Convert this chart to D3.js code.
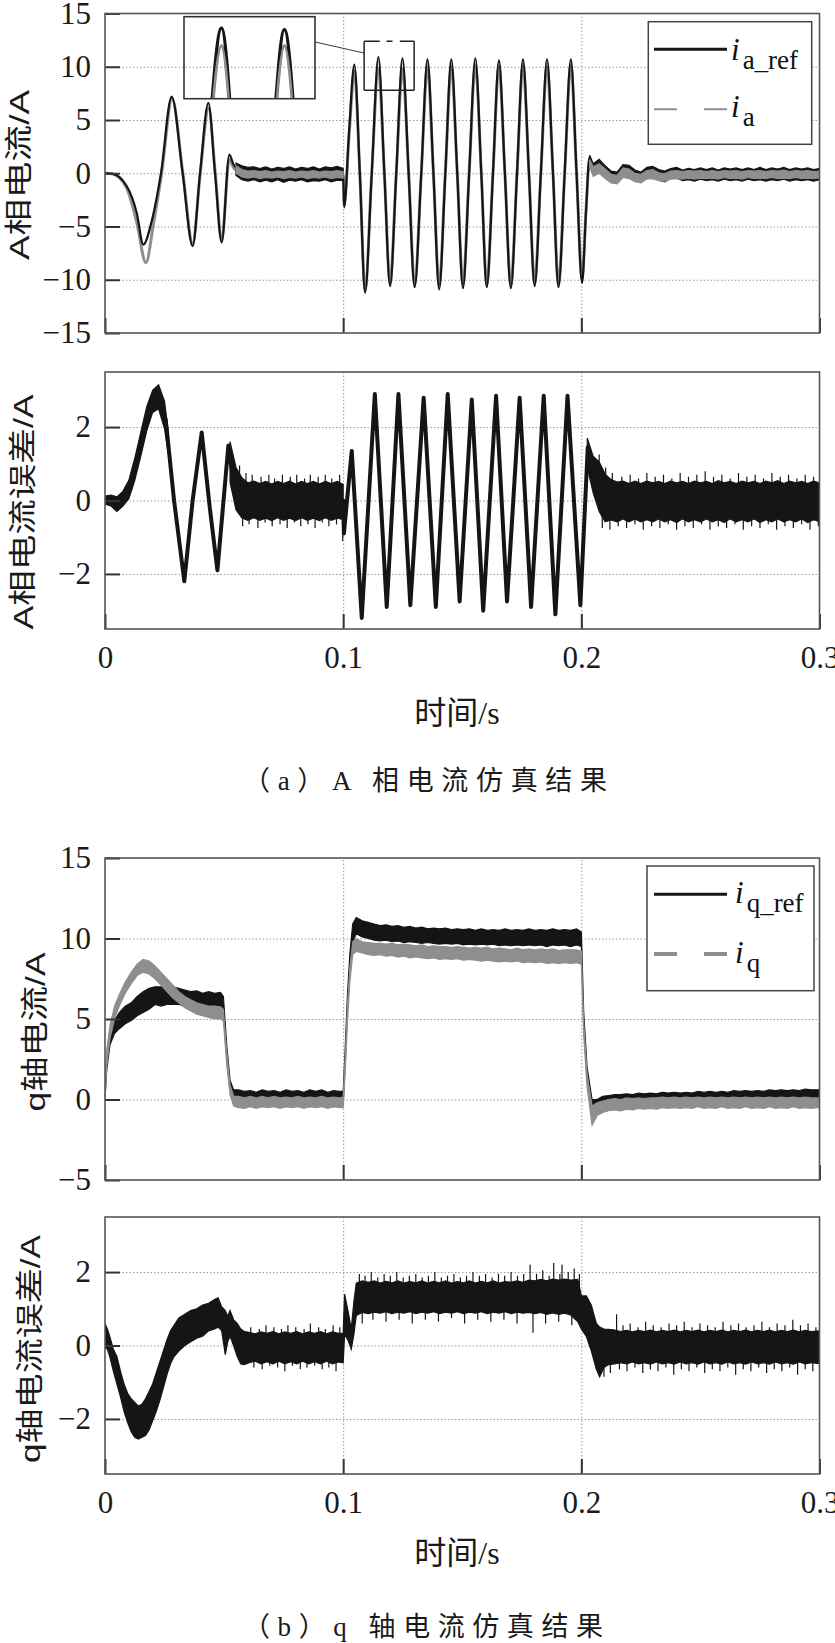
<!DOCTYPE html>
<html>
<head>
<meta charset="utf-8">
<script src="https://cdn.jsdelivr.net/npm/d3@7"></script>
<style>
  body { margin: 0; background: #fff; }
  svg { display: block; }
</style>
</head>
<body>
<div id="container"></div>
<script>
// ---- tick values / labels ----
const xTicks = [0, 0.1, 0.2, 0.3];
const yTicksA = [-15, -10, -5, 0, 5, 10, 15];
const yTicksQ = [-5, 0, 5, 10, 15];
const yTicksErr = [-2, 0, 2];
const legendA = ["a_ref", "a"];
const legendQ = ["q_ref", "q"];
const yLabels = ["A相电流/A", "A相电流误差/A", "q轴电流/A", "q轴电流误差/A"];
const captions = ["（a）A 相电流仿真结果", "（b）q 轴电流仿真结果"];
const xTitle = "时间/s";

// ---- (a) phase A current, key points [t, value] ----
const iaRef = [
  [0,0],[0.003,-0.05],[0.0091,-1.2],[0.0133,-3.7],[0.0161,-6.7],[0.0195,-4.6],[0.0235,0],[0.0280,7.2],
  [0.0326,0],[0.0368,-6.85],[0.0399,0],[0.0434,6.6],[0.0462,0],[0.0490,-6.5],[0.0522,1.75],[0.0540,0.8],
  [0.0563,0.35],[0.0600,0],[0.1000,0],
  [0.1004,-3.2],[0.1025,4.0],[0.1047,10.2],[0.1070,0],[0.1092,-11.2],[0.1120,0],[0.1148,10.9],[0.1173,0],
  [0.1197,-10.6],[0.1223,0],[0.1249,10.8],[0.1275,0],[0.1300,-10.7],[0.1328,0],[0.1354,10.7],[0.1379,0],
  [0.1403,-10.9],[0.1429,0],[0.1454,10.7],[0.1479,0],[0.1503,-10.8],[0.1529,0],[0.1555,10.8],[0.1580,0],
  [0.1603,-10.7],[0.1629,0],[0.1654,10.6],[0.1679,0],[0.1704,-10.8],[0.1730,0],[0.1755,10.7],[0.1780,0],
  [0.1804,-10.6],[0.1830,0],[0.1856,10.7],[0.1881,0],[0.1904,-10.7],[0.1930,0],[0.1956,10.7],[0.1980,0],
  [0.2003,-10.3],[0.2020,-3.5],[0.2034,1.5],[0.2050,0.4],[0.2072,0.9],[0.2095,0.4],[0.2115,-0.3],[0.2138,-0.6],
  [0.2162,0.1],[0.2186,0.55],[0.2212,0.0],[0.2238,-0.45],[0.2265,0.0],[0.2290,0.3],[0.2320,-0.1],[0.2350,-0.3],
  [0.2400,0],[0.3000,0]
];
const ia = [
  [0,0],[0.003,-0.05],[0.0091,-1.4],[0.0133,-4.6],[0.0172,-8.4],[0.0203,-4.8],[0.0238,0],[0.0282,7.0],
  [0.0327,0],[0.0368,-6.6],[0.0400,0],[0.0435,6.1],[0.0463,0],[0.0490,-6.3],[0.0522,1.3],[0.0540,0.5],
  [0.0563,0.1],[0.0600,-0.1],[0.1000,-0.1],
  [0.1004,-3.0],[0.1025,3.6],[0.1047,9.6],[0.1070,0],[0.1092,-10.9],[0.1120,0],[0.1148,9.8],[0.1173,0],
  [0.1197,-10.3],[0.1223,0],[0.1249,9.8],[0.1275,0],[0.1300,-10.4],[0.1328,0],[0.1354,10.0],[0.1379,0],
  [0.1403,-10.5],[0.1429,0],[0.1454,10.0],[0.1479,0],[0.1503,-10.4],[0.1529,0],[0.1555,10.1],[0.1580,0],
  [0.1603,-10.4],[0.1629,0],[0.1654,10.0],[0.1679,0],[0.1704,-10.5],[0.1730,0],[0.1755,10.1],[0.1780,0],
  [0.1804,-10.3],[0.1830,0],[0.1856,10.0],[0.1881,0],[0.1904,-10.4],[0.1930,0],[0.1956,10.1],[0.1980,0],
  [0.2003,-9.9],[0.2020,-3.3],[0.2034,1.1],[0.2050,0.1],[0.2072,0.6],[0.2095,0.1],[0.2115,-0.5],[0.2138,-0.8],
  [0.2162,-0.1],[0.2186,0.3],[0.2212,-0.2],[0.2238,-0.6],[0.2265,-0.2],[0.2290,0.1],[0.2320,-0.25],[0.2350,-0.4],
  [0.2400,-0.15],[0.3000,-0.1]
];
// noise envelopes [t, low, high]
const iaRefBand1 = [
  [0.0550,-0.2,0.95],[0.0575,-0.6,0.7],[0.0600,-0.75,0.55],[0.0625,-0.6,0.6],[0.0650,-0.8,0.45],[0.0675,-0.65,0.6],
  [0.0700,-0.8,0.4],[0.0725,-0.6,0.55],[0.0750,-0.85,0.45],[0.0775,-0.65,0.6],[0.0800,-0.75,0.4],[0.0825,-0.6,0.55],
  [0.0850,-0.8,0.45],[0.0875,-0.7,0.6],[0.0900,-0.75,0.4],[0.0925,-0.6,0.6],[0.0950,-0.8,0.5],[0.0975,-0.65,0.65],
  [0.1000,-0.7,0.45]
];
const iaBand1 = [
  [0.0550,0.0,0.7],[0.0575,-0.35,0.35],[0.0600,-0.45,0.2],[0.0625,-0.35,0.25],[0.0650,-0.5,0.15],[0.0675,-0.4,0.25],
  [0.0700,-0.45,0.1],[0.0725,-0.35,0.2],[0.0750,-0.5,0.15],[0.0775,-0.4,0.25],[0.0800,-0.45,0.1],[0.0825,-0.35,0.2],
  [0.0850,-0.5,0.15],[0.0875,-0.4,0.25],[0.0900,-0.45,0.1],[0.0925,-0.35,0.2],[0.0950,-0.5,0.15],[0.0975,-0.4,0.25],
  [0.1000,-0.45,0.15]
];
const iaRefBand2 = [
  [0.2035,0.9,1.7],[0.2050,-0.1,0.9],[0.2075,0.3,1.3],[0.2100,-0.3,0.7],[0.2125,-0.8,0.2],[0.2150,-0.9,0.1],
  [0.2175,-0.2,0.8],[0.2200,-0.3,0.75],[0.2225,-0.7,0.3],[0.2250,-0.85,0.1],[0.2275,-0.4,0.55],[0.2300,-0.3,0.65],
  [0.2325,-0.65,0.35],[0.2350,-0.8,0.2],[0.2375,-0.5,0.45],[0.2400,-0.45,0.55],[0.2425,-0.7,0.3],[0.2450,-0.6,0.45],
  [0.2475,-0.75,0.35],[0.2500,-0.55,0.5],[0.2525,-0.7,0.35],[0.2550,-0.6,0.5],[0.2575,-0.75,0.3],[0.2600,-0.55,0.5],
  [0.2625,-0.7,0.4],[0.2650,-0.6,0.5],[0.2675,-0.75,0.35],[0.2700,-0.55,0.5],[0.2725,-0.7,0.35],[0.2750,-0.6,0.55],
  [0.2775,-0.75,0.35],[0.2800,-0.6,0.5],[0.2825,-0.7,0.4],[0.2850,-0.55,0.55],[0.2875,-0.75,0.35],[0.2900,-0.6,0.5],
  [0.2925,-0.7,0.4],[0.2950,-0.6,0.5],[0.2975,-0.75,0.35],[0.3000,-0.6,0.45]
];
const iaBand2 = [
  [0.2035,0.6,1.3],[0.2050,-0.3,0.6],[0.2075,0.0,0.9],[0.2100,-0.5,0.4],[0.2125,-0.9,-0.1],[0.2150,-1.0,-0.2],
  [0.2175,-0.4,0.5],[0.2200,-0.5,0.4],[0.2225,-0.8,0.0],[0.2250,-0.9,-0.1],[0.2275,-0.55,0.25],[0.2300,-0.5,0.35],
  [0.2325,-0.7,0.05],[0.2350,-0.75,-0.05],[0.2375,-0.55,0.2],[0.2400,-0.5,0.25],[0.2425,-0.55,0.15],[0.2450,-0.45,0.25],
  [0.2475,-0.55,0.2],[0.2500,-0.45,0.25],[0.2525,-0.5,0.15],[0.2550,-0.45,0.25],[0.2575,-0.55,0.15],[0.2600,-0.4,0.25],
  [0.2625,-0.5,0.2],[0.2650,-0.45,0.25],[0.2675,-0.55,0.15],[0.2700,-0.4,0.25],[0.2725,-0.5,0.2],[0.2750,-0.45,0.25],
  [0.2775,-0.5,0.15],[0.2800,-0.4,0.25],[0.2825,-0.5,0.2],[0.2850,-0.45,0.3],[0.2875,-0.5,0.15],[0.2900,-0.4,0.25],
  [0.2925,-0.5,0.2],[0.2950,-0.45,0.25],[0.2975,-0.5,0.15],[0.3000,-0.45,0.2]
];

// ---- (a) phase A current error ----
const iaErr = [
  [0,0],[0.0025,0.02],[0.0045,-0.12],[0.0065,0.0],[0.0085,0.1],[0.0105,0.3],[0.013,0.9],[0.016,1.7],[0.019,2.5],
  [0.0224,2.85],[0.0255,2.2],[0.029,0.0],[0.0333,-2.2],[0.0368,0.0],[0.0406,1.85],[0.0440,-0.2],[0.0472,-1.9],
  [0.0495,-0.2],[0.0518,1.5],[0.0535,0.7],[0.056,0.2],[0.06,0.0],[0.1,0.0],
  [0.1003,-0.9],[0.1036,1.35],[0.1078,-3.2],[0.1133,2.9],[0.1183,-2.9],[0.1232,2.9],[0.1282,-2.85],[0.1338,2.8],
  [0.1389,-2.9],[0.1439,2.9],[0.1489,-2.75],[0.1540,2.75],[0.1588,-3.0],[0.1642,2.85],[0.1688,-2.75],[0.1741,2.8],
  [0.1789,-2.9],[0.1842,2.85],[0.1891,-3.1],[0.1942,2.85],[0.1996,-2.85],[0.2027,1.45],[0.2045,0.7],[0.207,0.5],
  [0.21,0.0],[0.3,0.0]
];
const iaErrBand1 = [
  [0.0000,-0.1,0.12],[0.0025,-0.15,0.15],[0.0050,-0.3,0.1],[0.0075,-0.15,0.25],[0.0100,0.05,0.55],[0.0125,0.55,1.15],
  [0.0150,1.2,1.85],[0.0175,1.9,2.55],[0.0200,2.4,3.0],[0.0225,2.5,3.15],[0.0250,1.95,2.7],[0.0265,1.3,1.9]
];
const iaErrBand2 = [
  [0.0525,0.5,1.6],[0.0550,-0.25,0.9],[0.0575,-0.48,0.62],[0.0600,-0.54,0.48],[0.0625,-0.47,0.53],[0.0650,-0.54,0.46],
  [0.0675,-0.48,0.52],[0.0700,-0.55,0.45],[0.0725,-0.47,0.52],[0.0750,-0.54,0.46],[0.0775,-0.48,0.53],[0.0800,-0.55,0.45],
  [0.0825,-0.47,0.52],[0.0850,-0.54,0.46],[0.0875,-0.48,0.52],[0.0900,-0.55,0.45],[0.0925,-0.47,0.52],[0.0950,-0.54,0.46],
  [0.0975,-0.48,0.52],[0.1000,-0.52,0.44]
];
const iaErrBand3 = [
  [0.2025,0.9,1.7],[0.2050,0.2,1.2],[0.2075,-0.3,1.05],[0.2100,-0.58,0.72],[0.2125,-0.53,0.57],[0.2150,-0.58,0.5],
  [0.2175,-0.5,0.53],[0.2200,-0.58,0.46],[0.2225,-0.5,0.53],[0.2250,-0.58,0.46],[0.2275,-0.52,0.53],[0.2300,-0.58,0.48],
  [0.2325,-0.5,0.52],[0.2350,-0.58,0.46],[0.2375,-0.52,0.53],[0.2400,-0.6,0.48],[0.2425,-0.5,0.52],[0.2450,-0.58,0.46],
  [0.2475,-0.52,0.53],[0.2500,-0.58,0.48],[0.2525,-0.5,0.52],[0.2550,-0.58,0.46],[0.2575,-0.52,0.54],[0.2600,-0.6,0.48],
  [0.2625,-0.5,0.52],[0.2650,-0.58,0.46],[0.2675,-0.52,0.53],[0.2700,-0.58,0.48],[0.2725,-0.5,0.52],[0.2750,-0.6,0.46],
  [0.2775,-0.52,0.53],[0.2800,-0.58,0.48],[0.2825,-0.5,0.54],[0.2850,-0.58,0.46],[0.2875,-0.52,0.53],[0.2900,-0.58,0.48],
  [0.2925,-0.5,0.52],[0.2950,-0.6,0.46],[0.2975,-0.52,0.53],[0.3000,-0.58,0.48]
];
// isolated noise spikes [t, base, tip]
const iaErrSpikes = [
  [0.0565,0.3,0.95],[0.0578,0,-0.7],[0.0592,0,0.75],[0.0605,0,-0.65],[0.0618,0,0.7],[0.0642,0,-0.75],[0.0655,0,0.65],
  [0.0672,0,-0.6],[0.0688,0,0.7],[0.0702,0,-0.7],[0.0712,0,0.6],[0.0735,0,-0.65],[0.0745,0,0.7],[0.0765,0,-0.75],
  [0.0778,0,0.65],[0.0795,0,-0.6],[0.0805,0,0.7],[0.0822,0,-0.7],[0.0838,0,0.6],[0.0852,0,-0.65],[0.0862,0,0.7],
  [0.0882,0,-0.75],[0.0895,0,0.65],[0.0912,0,-0.6],[0.0925,0,0.7],[0.0940,0,-0.7],[0.0952,0,0.6],[0.0972,0,-0.65],
  [0.0985,0,0.7],[0.0998,0,-1.1],
  [0.2075,0.4,1.25],[0.2088,0,-0.75],[0.2102,0,0.9],[0.2120,0,-0.8],[0.2130,0,0.75],[0.2155,0,-0.7],[0.2170,0,0.65],
  [0.2190,0,-0.75],[0.2205,0,0.7],[0.2225,0,-0.65],[0.2240,0,0.6],[0.2260,0,-0.8],[0.2275,0,0.75],[0.2295,0,-0.7],
  [0.2310,0,0.65],[0.2330,0,-0.75],[0.2345,0,0.7],[0.2365,0,-0.65],[0.2380,0,0.6],[0.2400,0,-0.8],[0.2415,0,0.75],
  [0.2435,0,-0.7],[0.2450,0,0.65],[0.2470,0,-0.75],[0.2485,0,0.7],[0.2505,0,-0.65],[0.2520,0,0.8],[0.2540,0,-0.8],
  [0.2555,0,0.65],[0.2575,0,-0.7],[0.2590,0,0.7],[0.2610,0,-0.75],[0.2625,0,0.6],[0.2645,0,-0.65],[0.2660,0,0.75],
  [0.2680,0,-0.8],[0.2695,0,0.65],[0.2715,0,-0.7],[0.2730,0,0.7],[0.2750,0,-0.75],[0.2765,0,0.6],[0.2785,0,-0.65],
  [0.2800,0,0.75],[0.2820,0,-0.8],[0.2835,0,0.65],[0.2855,0,-0.7],[0.2870,0,0.7],[0.2890,0,-0.75],[0.2905,0,0.6],
  [0.2925,0,-0.65],[0.2940,0,0.7],[0.2960,0,-0.8],[0.2975,0,0.65],[0.2995,0,-0.7]
];

// ---- (b) q-axis current, envelopes [t, low, high] ----
const iqRefBand = [
  [0.0000,0.0,0.3],[0.0007,1.8,2.8],[0.0021,3.4,4.2],[0.0040,4.1,4.9],[0.0060,4.4,5.4],[0.0085,4.7,5.8],
  [0.0110,4.9,6.0],[0.0135,5.2,6.4],[0.0160,5.4,6.7],[0.0185,5.6,6.9],[0.0210,5.9,7.0],[0.0235,5.8,7.0],
  [0.0260,5.9,6.9],[0.0285,5.9,7.0],[0.0310,5.9,6.9],[0.0335,5.8,6.8],[0.0360,5.8,6.7],[0.0385,5.7,6.75],
  [0.0410,5.7,6.6],[0.0435,5.65,6.7],[0.0460,5.6,6.6],[0.0485,5.6,6.65],[0.0497,5.4,6.4],[0.0511,2.6,3.4],
  [0.0525,0.6,1.2],[0.0540,0.0,0.6],[0.0560,-0.1,0.6],[0.0585,-0.3,0.5],[0.0610,-0.4,0.55],[0.0635,-0.2,0.45],
  [0.0660,-0.45,0.6],[0.0685,-0.3,0.5],[0.0710,-0.4,0.55],[0.0735,-0.25,0.45],[0.0760,-0.45,0.6],[0.0785,-0.3,0.5],
  [0.0810,-0.4,0.55],[0.0835,-0.3,0.45],[0.0860,-0.45,0.6],[0.0885,-0.3,0.5],[0.0910,-0.4,0.6],[0.0935,-0.3,0.45],
  [0.0960,-0.45,0.55],[0.0985,-0.3,0.5],[0.1000,-0.3,0.5],[0.1008,2.0,3.0],[0.1018,5.5,6.5],[0.1028,8.0,9.0],
  [0.1040,9.8,10.9],[0.1055,10.3,11.3],[0.1080,10.1,11.1],[0.1105,10.0,11.0],[0.1130,9.9,10.9],[0.1155,9.85,10.8],
  [0.1180,9.9,10.85],[0.1205,9.8,10.75],[0.1230,9.85,10.8],[0.1255,9.75,10.7],[0.1280,9.8,10.75],[0.1305,9.75,10.65],
  [0.1330,9.7,10.7],[0.1355,9.75,10.6],[0.1380,9.7,10.65],[0.1405,9.65,10.6],[0.1430,9.7,10.65],[0.1455,9.65,10.55],
  [0.1480,9.7,10.6],[0.1505,9.6,10.55],[0.1530,9.65,10.6],[0.1555,9.6,10.5],[0.1580,9.65,10.6],[0.1605,9.6,10.5],
  [0.1630,9.65,10.55],[0.1655,9.55,10.5],[0.1680,9.6,10.6],[0.1705,9.55,10.5],[0.1730,9.6,10.55],[0.1755,9.55,10.5],
  [0.1780,9.6,10.6],[0.1805,9.55,10.5],[0.1830,9.6,10.55],[0.1855,9.5,10.5],[0.1880,9.6,10.6],[0.1905,9.55,10.5],
  [0.1930,9.6,10.55],[0.1955,9.5,10.5],[0.1980,9.6,10.6],[0.2000,9.5,10.4],[0.2010,4.6,5.4],[0.2024,1.2,2.0],
  [0.2045,-0.7,0.0],[0.2066,-0.8,0.0],[0.2090,-0.6,0.2],[0.2115,-0.5,0.25],[0.2140,-0.45,0.3],[0.2165,-0.4,0.3],
  [0.2190,-0.45,0.35],[0.2215,-0.35,0.3],[0.2240,-0.4,0.4],[0.2265,-0.3,0.35],[0.2290,-0.35,0.4],[0.2315,-0.3,0.35],
  [0.2340,-0.35,0.45],[0.2365,-0.25,0.4],[0.2390,-0.3,0.45],[0.2415,-0.25,0.4],[0.2440,-0.3,0.45],[0.2465,-0.2,0.4],
  [0.2490,-0.25,0.5],[0.2515,-0.2,0.45],[0.2540,-0.25,0.5],[0.2565,-0.15,0.45],[0.2590,-0.2,0.5],[0.2615,-0.15,0.45],
  [0.2640,-0.2,0.55],[0.2665,-0.1,0.5],[0.2690,-0.15,0.55],[0.2715,-0.1,0.5],[0.2740,-0.15,0.55],[0.2765,-0.05,0.5],
  [0.2790,-0.1,0.6],[0.2815,-0.05,0.55],[0.2840,-0.1,0.6],[0.2865,0.0,0.55],[0.2890,-0.05,0.6],[0.2915,0.0,0.55],
  [0.2940,-0.05,0.65],[0.2965,0.0,0.6],[0.3000,0.0,0.6]
];
const iqBand = [
  [0.0000,0.0,0.2],[0.0007,2.0,3.0],[0.0021,3.8,4.6],[0.0040,5.0,5.8],[0.0060,5.8,6.5],[0.0085,6.6,7.3],
  [0.0110,7.2,7.9],[0.0135,7.7,8.4],[0.0160,7.9,8.7],[0.0185,7.8,8.6],[0.0210,7.5,8.3],[0.0235,7.1,7.9],
  [0.0260,6.7,7.5],[0.0285,6.3,7.1],[0.0310,6.0,6.7],[0.0335,5.7,6.4],[0.0360,5.5,6.2],[0.0385,5.3,6.0],
  [0.0410,5.2,5.9],[0.0435,5.1,5.8],[0.0460,5.0,5.8],[0.0485,5.0,5.75],[0.0497,4.9,5.6],[0.0511,2.2,3.0],
  [0.0525,0.3,0.9],[0.0540,-0.4,0.2],[0.0560,-0.5,0.2],[0.0585,-0.55,0.1],[0.0610,-0.45,0.2],[0.0635,-0.55,0.1],
  [0.0660,-0.45,0.2],[0.0685,-0.5,0.1],[0.0710,-0.45,0.2],[0.0735,-0.55,0.1],[0.0760,-0.45,0.15],[0.0785,-0.5,0.1],
  [0.0810,-0.45,0.2],[0.0835,-0.55,0.1],[0.0860,-0.45,0.15],[0.0885,-0.5,0.1],[0.0910,-0.45,0.2],[0.0935,-0.55,0.1],
  [0.0960,-0.45,0.15],[0.0985,-0.5,0.1],[0.1000,-0.5,0.15],[0.1008,1.6,2.5],[0.1018,4.8,5.8],[0.1028,7.3,8.2],
  [0.1040,9.0,9.8],[0.1055,9.2,10.0],[0.1080,9.1,9.8],[0.1105,9.0,9.75],[0.1130,8.95,9.7],[0.1155,9.0,9.7],
  [0.1180,8.9,9.65],[0.1205,8.95,9.7],[0.1230,8.85,9.6],[0.1255,8.9,9.65],[0.1280,8.8,9.6],[0.1305,8.85,9.55],
  [0.1330,8.8,9.6],[0.1355,8.75,9.5],[0.1380,8.8,9.55],[0.1405,8.7,9.5],[0.1430,8.75,9.5],[0.1455,8.7,9.45],
  [0.1480,8.75,9.5],[0.1505,8.65,9.45],[0.1530,8.7,9.4],[0.1555,8.65,9.45],[0.1580,8.6,9.4],[0.1605,8.65,9.45],
  [0.1630,8.6,9.35],[0.1655,8.55,9.4],[0.1680,8.6,9.35],[0.1705,8.55,9.3],[0.1730,8.6,9.4],[0.1755,8.5,9.3],
  [0.1780,8.55,9.35],[0.1805,8.5,9.3],[0.1830,8.55,9.35],[0.1855,8.45,9.3],[0.1880,8.5,9.35],[0.1905,8.45,9.25],
  [0.1930,8.5,9.3],[0.1955,8.45,9.3],[0.1980,8.5,9.3],[0.2000,8.4,9.2],[0.2010,4.0,4.8],[0.2024,0.8,1.6],
  [0.2045,-1.6,-0.4],[0.2066,-1.0,-0.2],[0.2090,-0.8,-0.1],[0.2115,-0.7,0.0],[0.2140,-0.65,0.05],[0.2165,-0.7,0.0],
  [0.2190,-0.6,0.1],[0.2215,-0.65,0.05],[0.2240,-0.55,0.1],[0.2265,-0.6,0.05],[0.2290,-0.55,0.1],[0.2315,-0.6,0.1],
  [0.2340,-0.5,0.15],[0.2365,-0.55,0.1],[0.2390,-0.5,0.15],[0.2415,-0.55,0.1],[0.2440,-0.5,0.15],[0.2465,-0.55,0.1],
  [0.2490,-0.45,0.15],[0.2515,-0.55,0.1],[0.2540,-0.5,0.15],[0.2565,-0.55,0.1],[0.2590,-0.45,0.15],[0.2615,-0.55,0.1],
  [0.2640,-0.5,0.15],[0.2665,-0.55,0.1],[0.2690,-0.45,0.15],[0.2715,-0.55,0.1],[0.2740,-0.5,0.15],[0.2765,-0.55,0.1],
  [0.2790,-0.45,0.15],[0.2815,-0.55,0.1],[0.2840,-0.5,0.15],[0.2865,-0.55,0.1],[0.2890,-0.45,0.15],[0.2915,-0.55,0.1],
  [0.2940,-0.5,0.15],[0.2965,-0.55,0.1],[0.3000,-0.5,0.1]
];

// ---- (b) q-axis current error ----
const iqErrBand = [
  [0.0000,-0.05,0.6],[0.0010,-0.1,0.45],[0.0020,-0.3,0.25],[0.0035,-0.7,-0.1],[0.0050,-1.05,-0.3],[0.0065,-1.4,-0.7],
  [0.0080,-1.8,-1.05],[0.0095,-2.1,-1.3],[0.0110,-2.35,-1.45],[0.0125,-2.5,-1.55],[0.0140,-2.55,-1.65],[0.0155,-2.5,-1.6],
  [0.0170,-2.45,-1.45],[0.0185,-2.3,-1.25],[0.0200,-2.05,-1.05],[0.0215,-1.8,-0.75],[0.0230,-1.5,-0.45],[0.0245,-1.15,-0.15],
  [0.0260,-0.8,0.15],[0.0275,-0.5,0.4],[0.0290,-0.3,0.55],[0.0310,-0.15,0.75],[0.0335,0.0,0.85],[0.0360,0.1,0.95],
  [0.0385,0.2,1.0],[0.0410,0.25,1.1],[0.0435,0.4,1.15],[0.0460,0.45,1.25],[0.0475,0.5,1.3],[0.0490,0.4,1.05],
  [0.0505,-0.25,0.95],[0.0515,0.1,0.8],[0.0525,0.25,0.95],[0.0540,0.0,0.7],[0.0555,-0.3,0.6],[0.0570,-0.5,0.45],
  [0.0585,-0.52,0.38],[0.0605,-0.47,0.36],[0.0630,-0.43,0.32],[0.0655,-0.5,0.37],[0.0680,-0.44,0.33],[0.0705,-0.5,0.38],
  [0.0730,-0.43,0.32],[0.0755,-0.5,0.37],[0.0780,-0.44,0.33],[0.0805,-0.5,0.38],[0.0830,-0.43,0.32],[0.0855,-0.5,0.37],
  [0.0880,-0.44,0.33],[0.0905,-0.5,0.38],[0.0930,-0.43,0.32],[0.0955,-0.5,0.37],[0.0980,-0.45,0.33],[0.1000,-0.47,0.34],
  [0.1006,0.3,1.4],[0.1020,0.15,0.95],[0.1034,-0.1,0.45],[0.1045,0.3,1.2],[0.1055,0.82,1.7],[0.1080,0.9,1.76],
  [0.1105,0.87,1.72],[0.1130,0.91,1.76],[0.1155,0.88,1.7],[0.1180,0.92,1.75],[0.1205,0.87,1.71],[0.1230,0.91,1.76],
  [0.1255,0.88,1.7],[0.1280,0.92,1.74],[0.1305,0.87,1.71],[0.1330,0.91,1.76],[0.1355,0.88,1.7],[0.1380,0.92,1.75],
  [0.1405,0.87,1.71],[0.1430,0.91,1.76],[0.1455,0.88,1.7],[0.1480,0.92,1.74],[0.1505,0.87,1.71],[0.1530,0.91,1.76],
  [0.1555,0.88,1.7],[0.1580,0.92,1.75],[0.1605,0.87,1.71],[0.1630,0.91,1.76],[0.1655,0.88,1.7],[0.1680,0.92,1.74],
  [0.1705,0.87,1.72],[0.1730,0.91,1.76],[0.1755,0.88,1.72],[0.1780,0.9,1.78],[0.1805,0.87,1.76],[0.1830,0.9,1.8],
  [0.1855,0.85,1.76],[0.1880,0.89,1.81],[0.1905,0.85,1.78],[0.1930,0.88,1.81],[0.1955,0.83,1.78],[0.1985,0.65,1.8],
  [0.2000,0.45,1.35],[0.2021,0.25,1.35],[0.2042,-0.15,1.1],[0.2063,-0.65,0.6],[0.2077,-0.85,0.5],[0.2095,-0.6,0.45],
  [0.2115,-0.52,0.44],[0.2140,-0.5,0.42],[0.2165,-0.47,0.38],[0.2190,-0.5,0.41],[0.2215,-0.45,0.37],[0.2240,-0.5,0.41],
  [0.2265,-0.47,0.38],[0.2290,-0.51,0.42],[0.2315,-0.45,0.37],[0.2340,-0.5,0.41],[0.2365,-0.47,0.38],[0.2390,-0.51,0.42],
  [0.2415,-0.45,0.37],[0.2440,-0.5,0.41],[0.2465,-0.47,0.38],[0.2490,-0.51,0.42],[0.2515,-0.45,0.37],[0.2540,-0.5,0.41],
  [0.2565,-0.47,0.38],[0.2590,-0.51,0.42],[0.2615,-0.45,0.37],[0.2640,-0.5,0.41],[0.2665,-0.47,0.38],[0.2690,-0.51,0.42],
  [0.2715,-0.45,0.37],[0.2740,-0.5,0.41],[0.2765,-0.47,0.38],[0.2790,-0.51,0.42],[0.2815,-0.45,0.37],[0.2840,-0.5,0.41],
  [0.2865,-0.47,0.38],[0.2890,-0.51,0.42],[0.2915,-0.45,0.37],[0.2940,-0.5,0.41],[0.2965,-0.47,0.38],[0.3000,-0.49,0.4]
];
const iqErrSpikes = [
  [0.0612,0,0.5],[0.0625,0,-0.6],[0.0648,0,0.45],[0.0660,0,-0.65],[0.0676,0,0.55],[0.0692,0,-0.55],[0.0709,0,0.5],
  [0.0725,0,-0.6],[0.0741,0,0.45],[0.0755,0,-0.7],[0.0768,0,0.55],[0.0787,0,-0.55],[0.0801,0,0.5],[0.0820,0,-0.65],
  [0.0836,0,0.45],[0.0848,0,-0.6],[0.0862,0,0.6],[0.0880,0,-0.55],[0.0897,0,0.5],[0.0912,0,-0.65],[0.0925,0,0.45],
  [0.0940,0,-0.6],[0.0958,0,0.55],[0.0970,0,-0.7],[0.0986,0,0.5],
  [0.1068,1.3,1.95],[0.1080,1.3,0.6],[0.1092,1.3,1.9],[0.1118,1.3,2.0],[0.1125,1.3,0.7],[0.1145,1.3,1.85],
  [0.1172,1.3,1.95],[0.1180,1.3,0.65],[0.1198,1.3,1.9],[0.1225,1.3,2.0],[0.1235,1.3,0.7],[0.1252,1.3,1.85],
  [0.1278,1.3,1.9],[0.1290,1.3,0.6],[0.1305,1.3,1.95],[0.1332,1.3,1.85],[0.1345,1.3,0.7],[0.1358,1.3,1.9],
  [0.1385,1.3,2.0],[0.1400,1.3,0.65],[0.1412,1.3,1.85],[0.1438,1.3,1.9],[0.1455,1.3,0.75],[0.1465,1.3,1.95],
  [0.1492,1.3,1.85],[0.1510,1.3,0.6],[0.1518,1.3,1.9],[0.1545,1.3,2.0],[0.1565,1.3,0.7],[0.1572,1.3,1.9],
  [0.1598,1.3,1.95],[0.1620,1.3,0.65],[0.1625,1.3,1.85],[0.1652,1.3,1.95],[0.1675,1.3,0.7],[0.1678,1.3,1.9],
  [0.1705,1.3,2.0],[0.1730,1.3,0.6],[0.1732,1.3,1.9],[0.1758,1.3,1.95],[0.1785,1.3,2.2],[0.1797,1.3,0.35],
  [0.1812,1.3,1.95],[0.1838,1.3,2.05],[0.1850,1.3,0.6],[0.1865,1.3,1.9],[0.1884,1.3,2.25],[0.1905,1.3,0.65],
  [0.1910,1.3,1.95],[0.1919,1.3,2.2],[0.1945,1.3,2.0],[0.1960,1.3,0.55],[0.1970,1.3,2.1],[0.1992,1.3,1.95],
  [0.2095,0,-0.85],[0.2122,0,-0.75],[0.2148,0,0.85],[0.2160,0,-0.65],[0.2175,0,0.55],[0.2192,0,-0.7],[0.2205,0,0.6],
  [0.2225,0,-0.6],[0.2238,0,0.5],[0.2258,0,-0.75],[0.2270,0,0.65],[0.2290,0,-0.65],[0.2302,0,0.55],[0.2322,0,-0.7],
  [0.2335,0,0.5],[0.2355,0,-0.6],[0.2368,0,0.6],[0.2388,0,-0.8],[0.2400,0,0.55],[0.2420,0,-0.65],[0.2432,0,0.65],
  [0.2452,0,-0.7],[0.2465,0,0.5],[0.2485,0,-0.6],[0.2498,0,0.6],[0.2518,0,-0.75],[0.2530,0,0.55],[0.2550,0,-0.65],
  [0.2562,0,0.5],[0.2582,0,-0.7],[0.2595,0,0.65],[0.2615,0,-0.6],[0.2628,0,0.55],[0.2648,0,-0.8],[0.2660,0,0.6],
  [0.2680,0,-0.65],[0.2692,0,0.5],[0.2712,0,-0.7],[0.2725,0,0.55],[0.2745,0,-0.6],[0.2758,0,0.65],[0.2778,0,-0.75],
  [0.2790,0,0.5],[0.2810,0,-0.65],[0.2822,0,0.6],[0.2842,0,-0.7],[0.2855,0,0.55],[0.2875,0,-0.6],[0.2888,0,0.7],
  [0.2908,0,-0.8],[0.2920,0,0.55],[0.2940,0,-0.65],[0.2952,0,0.6],[0.2972,0,-0.7],[0.2985,0,0.5]
];

// ---------------------------------------------------------------
var w = 835, h = 1643;
var X0 = 105, X1 = 819.5;
var BLACK = "#151515", GRAY = "#8e8e8e";
var SERIF = "'Liberation Serif','Times New Roman','Noto Sans CJK SC',serif";
var SANS = "'Liberation Sans','Noto Sans CJK SC',sans-serif";

var svg = d3.select("div#container").append("svg")
    .attr("width", w).attr("height", h)
    .attr("viewBox", "0 0 " + w + " " + h)
    .style("background-color", "#fff");

var x = d3.scaleLinear().domain([0, 0.3]).range([X0, X1]);

var panels = [
  {id: "pa",  top: 13.5, bottom: 333,  dom: [-15, 15],   ticks: yTicksA,   lx: 19, ly: 175,  llen: 170, xl: false},
  {id: "pae", top: 372,  bottom: 629,  dom: [-3.5, 3.5], ticks: yTicksErr, lx: 23, ly: 512,  llen: 235, xl: true},
  {id: "pq",  top: 858,  bottom: 1180, dom: [-5, 15],    ticks: yTicksQ,   lx: 35, ly: 1032, llen: 159, xl: false},
  {id: "pqe", top: 1217, bottom: 1474, dom: [-3.5, 3.5], ticks: yTicksErr, lx: 30, ly: 1349, llen: 228, xl: true}
];

function frame(p, i) {
  var y = d3.scaleLinear().domain(p.dom).range([p.bottom, p.top]);
  var g = svg.append("g");
  svg.append("clipPath").attr("id", "clip-" + p.id)
    .append("rect").attr("x", X0).attr("y", p.top).attr("width", X1 - X0).attr("height", p.bottom - p.top);

  // dotted grid
  var gy = g.append("g").attr("transform", "translate(" + X0 + ",0)")
    .call(d3.axisLeft(y).tickValues(p.ticks.filter(v => v > p.dom[0] && v < p.dom[1]))
      .tickSize(-(X1 - X0)).tickFormat(""));
  var gx = g.append("g").attr("transform", "translate(0," + p.bottom + ")")
    .call(d3.axisBottom(x).tickValues([0.1, 0.2]).tickSize(-(p.bottom - p.top)).tickFormat(""));
  [gy, gx].forEach(a => {
    a.select(".domain").remove();
    a.selectAll("line").attr("stroke", "#9a9a9a").attr("stroke-width", 1).attr("stroke-dasharray", "1.5,2");
  });

  var plot = g.append("g").attr("clip-path", "url(#clip-" + p.id + ")");

  // y label
  svg.append("text")
    .attr("transform", "translate(" + p.lx + "," + p.ly + ") rotate(-90)")
    .attr("text-anchor", "middle").attr("dominant-baseline", "central")
    .attr("textLength", p.llen).attr("lengthAdjust", "spacingAndGlyphs")
    .style("font-family", SANS).style("font-size", "28px").attr("fill", "#1a1a1a")
    .text(yLabels[i]);
  return {y: y, g: g, plot: plot};
}

function finish(p, f) {
  var ya = f.g.append("g").attr("transform", "translate(" + X0 + ",0)")
    .call(d3.axisLeft(f.y).tickValues(p.ticks).tickSize(-15).tickPadding(14).tickFormat(d3.format("d")));
  var xa = f.g.append("g").attr("transform", "translate(0," + p.bottom + ")")
    .call(d3.axisBottom(x).tickValues(xTicks).tickSize(-15).tickPadding(17)
      .tickFormat(p.xl ? (d => d === 0 ? "0" : d3.format(".1f")(d)) : ""));
  [ya, xa].forEach(a => {
    a.select(".domain").remove();
    a.selectAll("line").attr("stroke", "#333").attr("stroke-width", 2);
    a.selectAll("text").style("font-family", SERIF).style("font-size", "31px").attr("fill", "#1a1a1a");
  });
  f.g.append("rect").attr("x", X0).attr("y", p.top).attr("width", X1 - X0).attr("height", p.bottom - p.top)
    .attr("fill", "none").attr("stroke", "#555").attr("stroke-width", 1.6);
}

function drawLine(sel, data, xs, ys, color, width, curve) {
  sel.append("path").datum(data)
    .attr("d", d3.line().x(d => xs(d[0])).y(d => ys(d[1])).curve(curve || d3.curveMonotoneX))
    .attr("fill", "none").attr("stroke", color).attr("stroke-width", width)
    .attr("stroke-linejoin", "round");
}
function drawBand(sel, data, ys, color) {
  sel.append("path").datum(data)
    .attr("d", d3.area().x(d => x(d[0])).y0(d => ys(d[1])).y1(d => ys(d[2])))
    .attr("fill", color).attr("stroke", color).attr("stroke-width", 1.2);
}
function drawSpikes(sel, data, ys, color) {
  sel.append("g").selectAll("line").data(data).enter().append("line")
    .attr("x1", d => x(d[0])).attr("x2", d => x(d[0]))
    .attr("y1", d => ys(d[1])).attr("y2", d => ys(d[2]))
    .attr("stroke", color).attr("stroke-width", 1.2);
}

function legend(bx, by, bw, bh, rows, labels, dashW) {
  var lg = svg.append("g");
  lg.append("rect").attr("x", bx).attr("y", by).attr("width", bw).attr("height", bh)
    .attr("fill", "#fff").attr("stroke", "#444").attr("stroke-width", 1.5);
  rows.forEach((r, k) => {
    var ln = lg.append("line").attr("x1", 654).attr("x2", 727).attr("y1", r.ly).attr("y2", r.ly)
      .attr("stroke", k === 0 ? BLACK : GRAY).attr("stroke-width", k === 0 ? 3 : dashW);
    if (k === 1) ln.attr("stroke-dasharray", "23,27,23");
    var t = lg.append("text").attr("x", r.tx).attr("y", r.ty).style("font-family", SERIF).attr("fill", "#111");
    t.append("tspan").style("font-style", "italic").style("font-size", "31px").text("i");
    t.append("tspan").attr("dx", 3).attr("dy", 9).style("font-size", "27px").text(labels[k]);
  });
}

// ---- panel (a) top: phase A current ----
var fa = frame(panels[0], 0);
drawLine(fa.plot, ia, x, fa.y, GRAY, 3);
drawLine(fa.plot, iaRef, x, fa.y, BLACK, 2.2);
drawBand(fa.plot, iaRefBand1, fa.y, BLACK);
drawBand(fa.plot, iaBand1, fa.y, GRAY);
drawBand(fa.plot, iaRefBand2, fa.y, BLACK);
drawBand(fa.plot, iaBand2, fa.y, GRAY);

// zoom box on the peaks and the inset
var zb = {x0: x(0.1088), x1: x(0.1298), y0: fa.y(12.4), y1: fa.y(7.8)};
var zg = svg.append("g").attr("stroke", "#222").attr("stroke-width", 1.5);
zg.append("line").attr("x1", zb.x0).attr("x2", zb.x0).attr("y1", zb.y0).attr("y2", zb.y1);
zg.append("line").attr("x1", zb.x1).attr("x2", zb.x1).attr("y1", zb.y0).attr("y2", zb.y1);
zg.append("line").attr("x1", zb.x0).attr("x2", zb.x1).attr("y1", zb.y1).attr("y2", zb.y1);
zg.append("line").attr("x1", zb.x0).attr("x2", zb.x1).attr("y1", zb.y0).attr("y2", zb.y0)
  .attr("stroke-dasharray", "15.7,6.7,6,7.3,15");

var inset = {x: 184, y: 16.7, w: 131, h: 82};
var xi = d3.scaleLinear().domain([0.1088, 0.1298]).range([inset.x, inset.x + inset.w]);
var yi = d3.scaleLinear().domain([6.5, 11.6]).range([inset.y + inset.h, inset.y]);
svg.append("clipPath").attr("id", "clip-inset").append("rect")
  .attr("x", inset.x).attr("y", inset.y).attr("width", inset.w).attr("height", inset.h);
var ig = svg.append("g").attr("clip-path", "url(#clip-inset)");
drawLine(ig, ia, xi, yi, GRAY, 3);
drawLine(ig, iaRef, xi, yi, BLACK, 3.4);
drawLine(ig, ia, xi, yi, GRAY, 2.2);
svg.append("rect").attr("x", inset.x).attr("y", inset.y).attr("width", inset.w).attr("height", inset.h)
  .attr("fill", "none").attr("stroke", "#333").attr("stroke-width", 1.6);
svg.append("line").attr("x1", inset.x + inset.w).attr("y1", 42).attr("x2", zb.x0).attr("y2", 53)
  .attr("stroke", "#444").attr("stroke-width", 1.1);

legend(648.3, 21.7, 163.4, 122.6,
  [{ly: 49.3, tx: 731, ty: 60}, {ly: 109.3, tx: 731, ty: 117}], legendA, 2);
finish(panels[0], fa);

// ---- panel (a) bottom: phase A current error ----
var fae = frame(panels[1], 1);
drawLine(fae.plot, iaErr, x, fae.y, BLACK, 4, d3.curveLinear);
drawBand(fae.plot, iaErrBand1, fae.y, BLACK);
drawBand(fae.plot, iaErrBand2, fae.y, BLACK);
drawBand(fae.plot, iaErrBand3, fae.y, BLACK);
drawSpikes(fae.plot, iaErrSpikes, fae.y, BLACK);
finish(panels[1], fae);

// ---- panel (b) top: q-axis current ----
var fq = frame(panels[2], 2);
drawBand(fq.plot, iqRefBand, fq.y, BLACK);
drawBand(fq.plot, iqBand, fq.y, GRAY);
legend(647, 866, 167, 124.7,
  [{ly: 894.3, tx: 735, ty: 903}, {ly: 954, tx: 735, ty: 963}], legendQ, 4);
finish(panels[2], fq);

// ---- panel (b) bottom: q-axis current error ----
var fqe = frame(panels[3], 3);
drawBand(fqe.plot, iqErrBand, fqe.y, BLACK);
drawSpikes(fqe.plot, iqErrSpikes, fqe.y, BLACK);
finish(panels[3], fqe);

// ---- axis titles and captions ----
[713, 1553].forEach(yy => {
  svg.append("text").attr("x", 457).attr("y", yy)
    .attr("text-anchor", "middle").attr("dominant-baseline", "central")
    .style("font-family", SERIF).style("font-size", "32px").attr("fill", "#1a1a1a")
    .text(xTitle);
});
[[425, 781, 364], [423, 1627, 360]].forEach((c, k) => {
  svg.append("text").attr("x", c[0]).attr("y", c[1])
    .attr("text-anchor", "middle").attr("dominant-baseline", "central")
    .attr("textLength", c[2]).attr("lengthAdjust", "spacing")
    .style("font-family", SERIF).style("font-size", "27px").attr("fill", "#1a1a1a")
    .text(captions[k]);
});
</script>
</body>
</html>
